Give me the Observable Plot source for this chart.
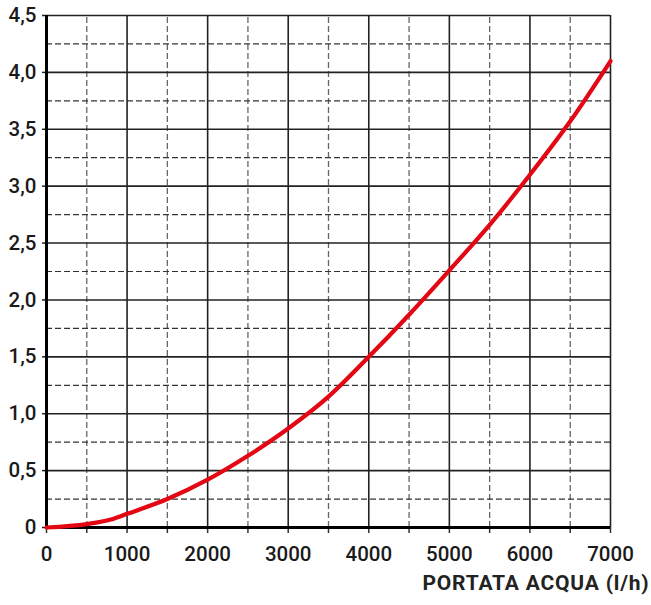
<!DOCTYPE html>
<html>
<head>
<meta charset="utf-8">
<script src="https://cdn.jsdelivr.net/npm/d3@7"></script>
<script src="https://cdn.jsdelivr.net/npm/@observablehq/plot@0.6"></script>
<style>
  html, body { margin: 0; padding: 0; background: #fff; }
  #chart svg { display: block; }
</style>
</head>
<body>
<div id="chart"></div>
<script>
// Flow rate (l/h) and pressure drop values
const flow = [0, 500, 800, 1000, 1500, 2000, 2500, 3000, 3500, 4000, 4500, 5000, 5500, 6000, 6500, 7000];
const drop = [0, 0.03, 0.07, 0.12, 0.25, 0.42, 0.63, 0.87, 1.15, 1.50, 1.87, 2.26, 2.66, 3.10, 3.57, 4.10];

const xMajor = [1000, 2000, 3000, 4000, 5000, 6000, 7000];
const xMinor = [500, 1500, 2500, 3500, 4500, 5500, 6500];
const xTickLabels = ["0", "1000", "2000", "3000", "4000", "5000", "6000", "7000"];
const yMajor = [0.5, 1.0, 1.5, 2.0, 2.5, 3.0, 3.5, 4.0, 4.5];
const yMinor = [0.25, 0.75, 1.25, 1.75, 2.25, 2.75, 3.25, 3.75, 4.25];
const yTickLabels = ["0", "0,5", "1,0", "1,5", "2,0", "2,5", "3,0", "3,5", "4,0", "4,5"];
const xAxisTitle = "PORTATA ACQUA (l/h)";

const data = flow.map((f, i) => ({flow: f, drop: drop[i]}));
const xTicksAll = d3.range(0, 7001, 500);
const yTicks = d3.range(0, 4.51, 0.5);

const chart = Plot.plot({
  width: 651,
  height: 605,
  marginLeft: 46,
  marginRight: 41,
  marginTop: 15,
  marginBottom: 78,
  style: {fontFamily: "Roboto, sans-serif", fontSize: "20px", color: "#1a1a1a", background: "#fff"},
  x: {domain: [0, 7000], label: null},
  y: {domain: [0, 4.5], label: null},
  marks: [
    // minor dashed grid
    Plot.ruleX(xMinor, {y1: 0, y2: 4.5, stroke: "#666", strokeWidth: 1.3, strokeDasharray: "6,3"}),
    Plot.ruleY(yMinor, {x1: 0, x2: 7000, stroke: "#333", strokeWidth: 1.2, strokeDasharray: "6,3"}),
    // major solid grid
    Plot.ruleX(xMajor, {y1: 0, y2: 4.5, stroke: "#222", strokeWidth: 1.6}),
    Plot.ruleY(yMajor, {x1: 0, x2: 7000, stroke: "#222", strokeWidth: 1.6}),
    // axes
    Plot.axisX(xTicksAll, {
      tickSize: 6, tickPadding: 13, stroke: "#333", strokeWidth: 1.5,
      tickFormat: d => d % 1000 === 0 ? xTickLabels[d / 1000] : "",
      fontSize: 20.5, fontWeight: 500, fill: "#1a1a1a"
    }),
    Plot.axisY(yTicks, {
      tickSize: 4, tickPadding: 6, stroke: "#222", strokeWidth: 1.5,
      tickFormat: d => yTickLabels[Math.round(d / 0.5)],
      fontSize: 20.5, fontWeight: 500, fill: "#1a1a1a"
    }),
    Plot.ruleX([0], {y1: 0, y2: 4.5, stroke: "#000", strokeWidth: 3}),
    Plot.ruleY([0], {x1: 0, x2: 7000, stroke: "#000", strokeWidth: 3}),
    // curve
    Plot.line(data, {x: "flow", y: "drop", stroke: "#e30613", strokeWidth: 4.2, curve: "monotone-x"}),
    // axis title
    Plot.text([xAxisTitle], {
      frameAnchor: "bottom-right", dx: 39, dy: 62,
      fontWeight: "bold", fontSize: 21, fill: "#222", textAnchor: "end"
    })
  ]
});
chart.querySelectorAll("text").forEach(t => {
  if (t.textContent === xAxisTitle) t.setAttribute("letter-spacing", "0.8");
});
document.getElementById("chart").appendChild(chart);
</script>
</body>
</html>
